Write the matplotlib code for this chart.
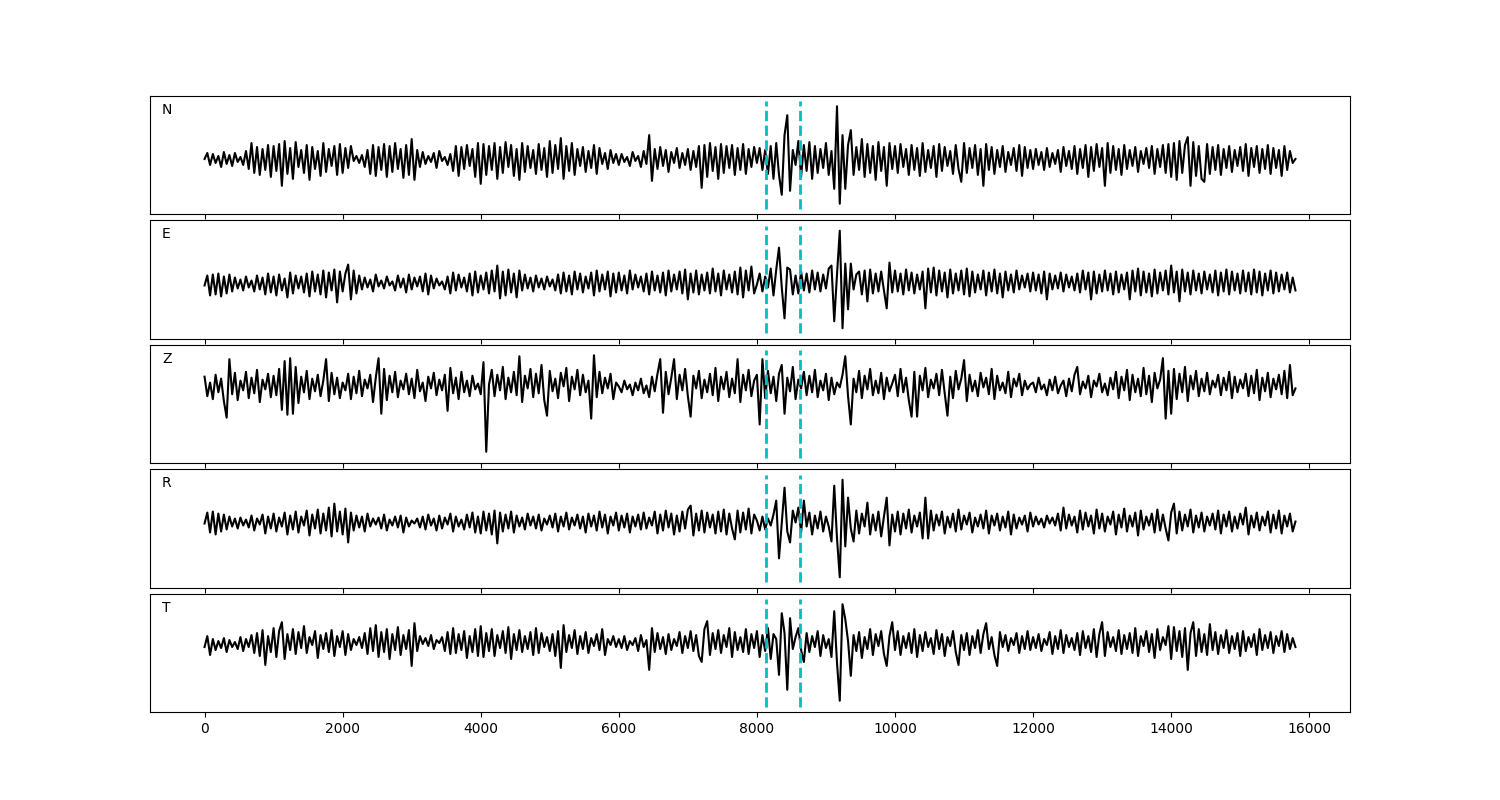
import numpy as np
import matplotlib
matplotlib.use("Agg")
import matplotlib.pyplot as plt

step = 40

components = ["N", "E", "Z", "R", "T"]
picks = [8125, 8620]

trace_N = [
    -4, 2, -10, 1, -8, -1, -12, 3, -9, 0, -11, 2, -7, -2, -10, 4,
    -14, 12, -18, 8, -20, 6, -15, 10, -22, 9, -16, 11, -31, 14, -19, 7,
    -24, 13, -12, 5, -18, 10, -25, 8, -14, 4, -21, 12, -17, 6, -11, 9, -20, 11,
    -18, 7, -13, 9, -6, -1, -8, 0, -12, 5, -19, 10, -21, 8, -15, 11,
    -22, 9, -17, 12, -14, 6, -23, 10, -20, 16, -25, 5, -12, 3, -9, -1,
    -7, 2, -13, 4, -6, -2, -10, 1, -16, 9, -21, 8, -14, 10, -11, 6, -22, 12,
    -29, 11, -20, 9, -15, 12, -24, 8, -18, 13, -12, 10, -21, 6, -25, 12,
    -17, 9, -13, 5, -19, 11, -15, 7, -22, 14, -18, 10, -14, 17, -24, 9,
    -16, 12, -20, 6, -11, 8, -17, 4, -13, 10, -19, 7, -9, 2, -14, 5, -8, 1,
    -10, 1, -7, -2, -11, 3, -6, -1, -12, 4, -9, 20, -26, 6, -14, 8,
    -11, 5, -17, 3, -8, 7, -13, 2, -10, 6, -15, 4, -12, 9, -33, 10,
    -22, 12, -16, 8, -24, 11, -18, 9, -13, 10, -20, 7, -15, 11, -19, 6, -12, 8,
    -8, 7, -15, 5, -19, 9, -24, 12, -20, -40, 20, 40, -36, 5, -10, 14,
    -22, 10, -16, 13, -24, 9, -18, 6, -13, 12, -20, 4, -34, 49, -49, 20,
    -34, 10, 25, -20, 8, -15, 16, -22, 11, -18, 9, -25, 13, -16, 8, -31, 12, -14,
    9, -18, 11, -12, 6, -20, 10, -15, 7, -21, 12, -17, 5, -13, 9, -22,
    11, -16, 8, -11, 4, -19, 10, -14, -27, 12, -18, 7, -13, 10, -20, 6,
    -31, 11, -15, 8, -19, 5, -12, 9, -17, 3, -10, 7, -16, 10, -21, 8, -13, 5,
    -14, 6, -10, 3, -15, 7, -12, 2, -9, 5, -17, 8, -11, 4, -14, 9,
    -19, 6, -13, 10, -22, 8, -16, 11, -12, 7, -31, 12, -18, 9, -15, 6,
    -20, 10, -14, 5, -11, 8, -17, 4, -9, 7, -13, 9, -19, 6, -12, 10, -18, 11,
    -22, 12, -25, 14, -18, 10, 18, -31, 13, -21, 9, -24, -27, 11, -19, 8,
    -15, 10, -20, 6, -13, 9, -17, 5, -11, 8, -16, 11, -21, 7, -12, 9,
    -18, 6, -14, 10, -19, 7, -13, 5, -21, 9, -15, 4, -8, -4,
]

trace_E = [
    -6, 4, -16, 5, -15, 6, -17, 3, -14, 5, -12, 2, -9, 0, -11, 3,
    -8, -1, -12, 4, -10, 2, -15, 6, -13, 3, -16, 5, -11, 1, -18, 7,
    -14, 4, -9, 3, -13, 6, -17, 8, -12, 5, -15, 9, -18, 7, -11, 10, -23, 8,
    -12, 6, 15, -20, 9, -14, 4, -10, 2, -8, 0, -12, 5, -7, -1, -9,
    3, -6, -2, -11, 4, -8, 1, -13, 5, -10, 2, -7, 3, -12, 6, -15,
    4, -9, 1, -6, -2, -10, 3, -14, 7, -11, 5, -8, 2, -12, 6, -16, 8, -13,
    4, -10, 7, -14, 9, -12, 14, -19, 8, -16, 10, -13, 6, -18, 9, -11,
    5, -9, 2, -12, 4, -8, 1, -10, 3, -7, 0, -11, 5, -14, 7, -12,
    4, -15, 8, -10, 6, -13, 3, -9, 7, -16, 9, -12, 5, -10, 8, -17, 6, -13,
    7, -11, 4, -14, 9, -10, 5, -8, 3, -12, 6, -15, 8, -11, 4, -13,
    7, -16, 9, -12, 5, -10, 8, -14, 10, -20, 6, -13, 9, -15, 5, -11,
    7, -14, 11, -12, 6, -16, 9, -10, 5, -13, 8, -15, 12, -18, 9, -11, 13, -14,
    -5, 6, -12, 3, -8, 11, -16, 10, 32, -8, -39, 12, 10, -15, 4, -14,
    8, -11, 6, -13, 9, -10, 7, -12, 5, -9, 11, 14, -42, 5, 49, -49,
    16, -30, 16, -10, 5, 8, -15, 9, -22, 10, -14, 6, -12, 8, -11, -29, 17, -13,
    9, -12, 6, -15, 10, -11, 7, -14, 5, -10, 8, -29, 11, -13, 12, -16,
    9, -12, 7, -18, 10, -14, 6, -11, 9, -15, 11, -17, 8, -13, 5, -10,
    9, -16, 7, -12, 10, -14, 6, -18, 8, -11, 5, -13, 9, -10, 4, -8, 6, -12,
    7, -11, 5, -14, 8, -20, 6, -10, 4, -9, 7, -12, 5, -8, 3, -11,
    6, -13, 9, -10, 7, -20, 8, -14, 5, -12, 9, -11, 6, -15, 8, -13,
    5, -10, 7, -20, 9, -12, 11, -16, 8, -13, 6, -17, 10, -14, 7, -11, 9, -15,
    14, -13, 8, -22, 10, -12, 7, -15, 9, -11, 6, -14, 8, -10, 5, -13,
    9, -16, 7, -12, 10, -15, 8, -11, 6, -14, 9, -12, 7, -15, 10, -13,
    8, -16, 6, -11, 9, -14, 7, -12, 5, -10, 7, -13, 2, -11,
]

trace_Z = [
    28, 8, 22, 5, 30, 12, 26, 3, -14, 46, 10, 32, 4, 24, 14, 33,
    6, 27, 11, 35, 2, 25, 15, 31, 7, 29, 9, 36, -6, 44, -11, 47,
    -10, 38, 1, 28, 12, 34, 5, 26, 13, 30, 8, 24, 46, 3, 32, 10, 27, 6,
    22, 14, 31, 5, 28, 11, 34, 8, 25, 16, 30, 2, 27, 47, -10, 36,
    4, 29, 12, 33, 7, 24, 15, 31, 10, 26, 6, 35, 13, 22, 3, 28,
    16, 32, 9, 25, 14, 30, -7, 37, 11, 27, 5, 33, 12, 24, 8, 29, 15, 21,
    10, 43, -49, 20, 35, 8, 30, 14, 38, 5, 27, 12, 33, 9, 49, 2,
    29, 16, 36, 7, 31, 11, 40, 4, -12, 34, 13, 26, 6, 32, 18, 37,
    3, 28, 15, 35, 9, 30, 12, 24, -15, 50, 7, 33, 11, 27, 16, 31, 5, 22,
    18, 12, 24, 15, 20, 9, 22, 14, 26, 11, 19, 7, 28, 13, 31, 46,
    -9, 33, 10, 27, 46, 5, 30, 14, 36, 8, -13, 29, 16, 34, 6, 25,
    12, 31, 9, 37, 3, 28, 15, 33, 7, 26, 11, 46, 2, 30, 14, 35, 8, 24,
    30, -21, 46, 6, 34, 11, 28, 3, 31, 40, -10, 27, 13, 38, 5, 25,
    16, 33, 9, 29, 12, 35, 7, 24, 14, 31, 4, 27, 10, 22, 17, 30,
    49, 8, -21, 26, 12, 34, 6, 29, 15, 36, 9, 24, 11, 32, 5, 27, 13, 21,
    30, 8, 36, 12, 27, 4, -13, 33, -13, 29, 14, 37, 7, 25, 16, 31,
    9, 35, 11, -12, 28, 6, 34, 15, 26, 45, 3, 30, 13, 24, 8, 32,
    17, 27, 10, 36, 5, 29, 14, 22, 11, 33, 7, 26, 18, 31, 9, 24, 15, 20,
    22, 12, 27, 15, 20, 9, 25, 14, 28, 11, 19, 24, 8, 26, 13, 30,
    38, 10, 23, 16, 29, 7, 24, 18, 31, 12, 21, 9, 27, 15, 33, 6,
    28, 14, 35, 4, 30, 12, 26, 8, 37, 10, 29, 2, 32, 16, 25, 47, -15, 34,
    -10, 36, 5, 31, 12, 38, 3, 29, 15, 34, 8, 26, 13, 32, 10, 24,
    17, 30, 9, 27, 14, 33, 6, 28, 12, 25, 16, 31, 8, 29, 11, 35,
    4, 27, 13, 32, 7, 26, 15, 30, 10, 34, 6, 40, 9, 16,
]

trace_R = [
    5, 16, -4, 17, -6, 15, -3, 14, -1, 12, 2, 10, 0, 11, 3, 9,
    1, 13, -2, 10, 4, 14, -5, 12, 0, 15, -3, 11, 2, 16, -6, 13,
    -1, 17, -4, 12, 3, 18, -7, 14, 0, 19, -5, 15, -2, 21, -8, 25, -3, 17,
    -6, 20, -14, 16, -2, 13, 1, 12, -3, 15, 2, 10, 4, 11, 0, 14,
    -2, 9, 3, 12, 1, 13, -4, 11, 2, 8, 5, 10, 1, 12, -1, 14,
    3, 10, -2, 13, 0, 11, 4, 15, -3, 12, 2, 9, -1, 14, 1, 16, -4, 12,
    -5, 17, -2, 15, -6, 18, -15, 16, -3, 14, 0, 17, -4, 13, 2, 11,
    -1, 15, 3, 12, 0, 14, -2, 10, 4, 13, 1, 15, -3, 12, 2, 16,
    -1, 11, 3, 14, 0, 12, -4, 15, 2, 13, -2, 17, 1, 14, -5, 12, 3, 16,
    -2, 13, 1, 15, -4, 12, 2, 14, -1, 16, 0, 11, 3, 17, -5, 14,
    -2, 18, 1, 15, -6, 13, -3, 17, 0, 19, 23, -7, 15, -2, 18, -4,
    16, 1, 14, -5, 17, -3, 19, -6, 15, 0, -11, 18, -4, 16, -1, 20, -5, 14,
    8, -2, 12, -1, 10, 3, 14, 28, -30, 5, 41, -3, -14, 18, 6, 21,
    -4, 28, 2, 16, -6, 13, 0, 17, -3, 12, 2, -13, 43, -10, -49, 49,
    -18, 31, 0, -13, 18, -5, 15, 2, 26, -6, 14, -2, 17, -8, 12, 31, -17, 14,
    -3, 17, -6, 15, 0, 19, -4, 13, 2, 16, -10, 31, -10, 18, -2, 14,
    3, 17, -5, 12, 1, 15, -3, 19, -1, 13, 4, 16, -4, 11, 2, 14,
    0, 18, -5, 13, 3, 15, -2, 12, 1, 17, -6, 14, 0, 11, 4, 13, -3, 16,
    2, 12, 4, 10, 1, 13, 5, 11, 3, 15, -2, 21, 0, 14, 3, 12,
    -4, 18, -1, 16, 2, 13, -5, 19, 0, 15, -3, 12, 4, 17, -6, 14,
    1, 20, -3, 13, 2, 16, -7, 18, -1, 12, 3, 15, -4, 19, -2, 14, 0, -12,
    16, 25, -5, 17, -2, 14, 2, 19, -4, 13, 1, 16, -3, 12, 3, 15,
    -1, 18, -5, 14, 2, 17, -3, 12, 0, 15, 4, 21, -6, 13, 1, 16,
    -2, 12, 3, 17, -4, 14, 0, 18, -5, 13, 2, 15, -3, 7,
]

trace_T = [
    6, 17, -2, 14, 3, 12, 5, 15, 1, 13, 6, 11, 4, 16, 2, 14,
    6, 18, 0, 20, -3, 23, -12, 17, 1, 25, -4, 22, 31, -6, 19, 3,
    24, -1, 21, 5, 27, 0, 16, 8, 22, -5, 18, 4, 20, 1, 23, -3, 17, 6,
    22, -2, 19, 3, 14, 8, 16, 5, 20, -1, 25, 2, 28, -4, 21, 1,
    24, -6, 19, 3, 26, -2, 18, 4, 23, -13, 30, 2, 17, 9, 15, 7,
    18, 4, 13, 10, 16, 2, 21, -1, 25, 0, 19, 3, 22, -5, 17, 1, 24, -3,
    27, -4, 20, 2, 24, -3, 18, 5, 22, 0, 26, -6, 19, 3, 23, 1,
    17, 4, 21, -2, 25, 0, 20, 6, 16, 2, 19, -3, 22, -15, 28, 1,
    18, 5, 23, -1, 17, 4, 21, 0, 15, 7, 19, 3, 24, -2, 14, 8, 17, 6,
    14, 5, 17, 3, 12, 8, 15, 2, 18, 6, 13, -17, 25, 1, 20, 4,
    16, -1, 19, 3, 14, 7, 21, 0, 17, 5, 22, 2, 18, -3, -9, 24,
    32, -2, 20, 4, 23, 0, 18, 6, 25, -4, 21, 3, 16, 1, 24, -1, 19, 5,
    22, -4, 18, 2, 25, -6, 19, 14, -22, 40, 20, -37, 35, 4, 16, 25,
    3, -9, 20, 1, 17, 6, 22, -3, 18, 5, 14, -4, 42, -10, -48, 49,
    34, 12, -23, 18, 2, 21, -5, 16, 4, 24, -2, 19, 7, 22, -1, -13, 17, 31,
    3, 22, -2, 17, 5, 20, 0, 24, -4, 18, 2, 21, 6, 15, -1, 23,
    4, 19, -3, 16, 7, 22, 1, -12, 18, 3, 20, -2, 17, 5, 23, 0,
    19, 30, 4, 16, -2, -13, 21, 6, 18, 2, 15, 8, 20, 0, 17, 4, 22, 3,
    16, 5, 19, 2, 14, 8, 21, -1, 17, 4, 23, 0, 18, 6, 15, 3,
    20, -2, 22, 5, 17, 1, 24, -4, 19, 31, -3, 21, 6, 16, 2, 23,
    -1, 18, 4, 20, 0, 25, -3, 17, 7, 22, 1, 19, -5, 24, 3, 16, 8, 27,
    -6, 26, 2, 22, -4, 25, -17, 20, 31, -3, 24, 1, 19, -2, 29, 3,
    21, -1, 18, 5, 23, 0, 17, 4, 20, -3, 22, 2, 16, 6, 19, -2,
    24, 3, 18, 5, 21, 0, 17, 7, 22, 1, 19, 4, 15, 6,
]

traces = [trace_N, trace_E, trace_Z, trace_R, trace_T]

fig, axes = plt.subplots(5, 1, figsize=(15, 8), dpi=100, sharex=True)
fig.subplots_adjust(left=0.1, right=0.9, top=0.88, bottom=0.11, hspace=0.055)

for ax, name, tr in zip(axes, components, traces):
    y = np.asarray(tr, dtype=float)
    t = np.arange(len(y)) * step
    ax.plot(t, y, color="k", lw=1.5)
    amp = 1.1 * np.max(np.abs(y))
    ax.vlines(picks, -amp, amp, colors="c", linestyles="--", lw=2)
    ax.set_yticks([])
    ax.text(0.01, 0.85, name, transform=ax.transAxes)

fig.savefig("out.png", dpi=100)
